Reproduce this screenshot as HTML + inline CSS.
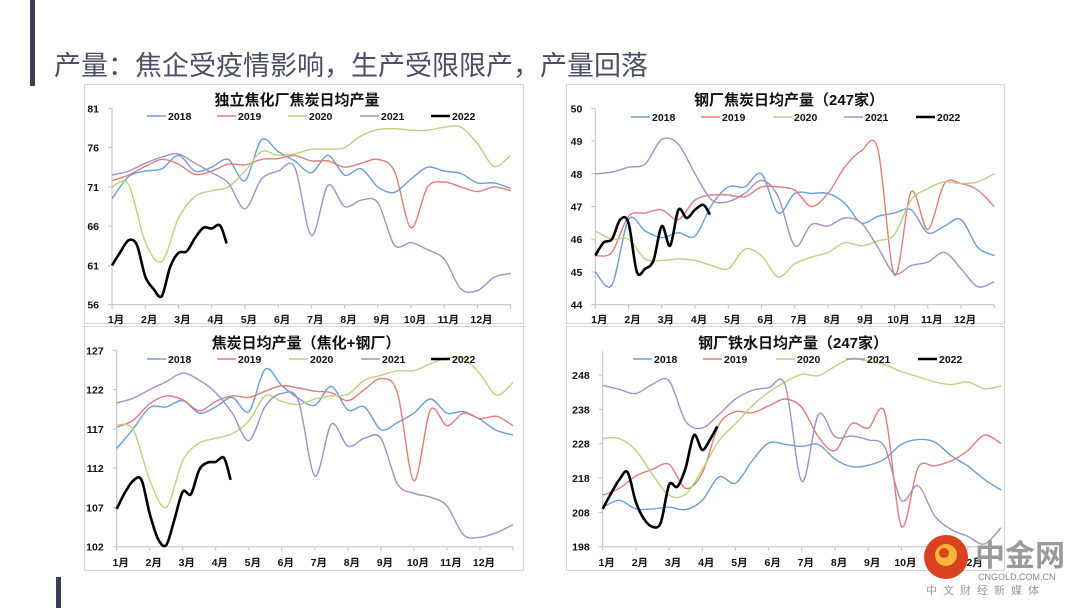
<!DOCTYPE html>
<html><head><meta charset="utf-8">
<style>
html,body{margin:0;padding:0;background:#fff;}
body{width:1080px;height:608px;overflow:hidden;position:relative;font-family:"Liberation Sans","Noto Sans CJK SC",sans-serif;}
svg text{font-family:"Liberation Sans","Noto Sans CJK SC",sans-serif;}
</style></head>
<body>
<svg id="root" width="1080" height="608" viewBox="0 0 1080 608">
  <rect x="30" y="0" width="5" height="86" fill="#3b3f54"/>
  <rect x="56" y="577" width="5" height="31" fill="#3b3f54"/>
  <text x="54" y="75" font-size="27" fill="#4a4f63">产量：焦企受疫情影响，生产受限限产，产量回落</text>
  <g id="charts"></g>
  <g>
    <circle cx="946" cy="557" r="22" fill="#d9421f"/>
    <circle cx="946" cy="555" r="11" fill="#f6b73c"/>
    <circle cx="944" cy="553" r="5" fill="#d9421f"/>
    <text x="975" y="566" font-size="30" font-weight="bold" fill="#9a9a9a">中金网</text>
    <text x="978" y="580" font-size="9" fill="#888">CNGOLD.COM.CN</text>
    <text x="926" y="594" font-size="11" fill="#999" letter-spacing="6">中文财经新媒体</text>
  </g>
</svg>
<script>
const months = ["1月","2月","3月","4月","5月","6月","7月","8月","9月","10月","11月","12月"];
const years = ["2018","2019","2020","2021","2022"];
const gridX = [0,0.5,1,1.5,2,2.5,3,3.5,4,4.5,5,5.5,6,6.5,7,7.5,8,8.5,9,9.5,10,10.5,11,11.5,12];
const x2022 = [0,0.25,0.5,0.75,1,1.25,1.5,1.75,2,2.25,2.5,2.75,3,3.25,3.45];

const c1Ticks = [56,61,66,71,76,81];
const c1s2018 = [69.5,72.3,73,73.3,75,73,73.5,74.5,71.8,77,75.5,74.3,72.8,75,72.5,73.3,71,70.3,72,73.5,73,72.7,71.5,71.5,70.8];
const c1s2019 = [71.8,72.5,73.6,74.5,73.9,72.6,73,73.9,73.8,74.5,74.6,75,74.3,74.3,73.5,74,74.5,73,65.8,71,71.6,71,70.4,71,70.5];
const c1s2020 = [71,71.3,64,61.5,67,69.8,70.5,71,73,75.5,75,75.2,75.8,75.8,76,77.5,78.3,78.4,78.2,78.2,78.6,78.6,76.5,73.6,75];
const c1s2021 = [72.5,73,74,74.8,75.2,74,72.8,71.5,68.2,72,73,73.5,64.8,71.2,68.5,69.3,69,63.6,63.9,63,61.8,58,57.8,59.5,60];
const c1s2022 = [61,62.7,64.2,63.6,59.6,58,57.1,60.8,62.6,62.8,64.5,65.8,65.7,66.1,63.8];

const c2Ticks = [44,45,46,47,48,49,50];
const c2s2018 = [45,44.6,46.6,46.25,46.05,46.2,46.1,47.05,47.6,47.6,48,46.8,47.4,47.4,47.4,47.1,46.5,46.7,46.8,46.9,46.2,46.4,46.6,45.75,45.5];
const c2s2019 = [45.5,45.6,46.7,46.8,46.9,46.6,47.2,47.35,47.35,47.3,47.6,47.6,47.5,47,47.4,48.2,48.7,48.75,44.9,47.45,46.3,47.7,47.7,47.5,47];
const c2s2020 = [46.25,46,46,45.4,45.35,45.4,45.35,45.2,45.1,45.7,45.5,44.85,45.25,45.45,45.6,45.9,45.8,45.95,46.15,47.2,47.55,47.75,47.7,47.75,48];
const c2s2021 = [48,48.05,48.2,48.3,49.05,48.9,48,47.2,47.15,47.4,47.8,47.3,45.8,46.45,46.4,46.65,46.5,45.75,44.95,45.2,45.3,45.6,45.1,44.55,44.7];
const c2s2022 = [45.5,45.9,46,46.6,46.5,45,45.1,45.35,46.4,45.8,46.9,46.65,46.9,47.05,46.75];

const c3Ticks = [102,107,112,117,122,127];
const c3s2018 = [114.5,117,119.7,119.8,120.6,119,119.8,121,119.2,124.6,122.5,120.9,120,122.4,119.4,119.8,116.9,117.8,119,120.8,119,119.2,118.2,116.8,116.2];
const c3s2019 = [117.2,118.1,120.2,121.2,120.7,119.3,120.5,121.2,121,121.8,122.5,122.2,121.8,121.6,120.6,122,123.4,121.6,110.4,119.4,117.4,119,118.3,118.6,117.4];
const c3s2020 = [117.5,116.9,110.5,107,113,115.2,115.8,116.4,118,121.2,120.5,120.1,120.8,121.2,121.4,123.2,123.8,124.4,124.4,125.3,126,126,124,121.3,122.9];
const c3s2021 = [120.3,120.9,122,123,124.1,123.2,121.6,119,115.5,119.9,121.5,120.6,111,117.6,114.8,115.8,115.8,110,108.8,108.3,107.2,103.5,103.2,103.8,104.8];
const c3s2022 = [106.8,108.9,110.4,110.5,106.2,103,102.2,105.5,109,108.7,111.8,112.7,112.8,113.3,110.5];

const c4Ticks = [198,208,218,228,238,248];
const c4s2018 = [209.5,211.5,209,209,209.5,208.8,211.5,218.3,216.5,223,228.2,227.8,227.2,227.8,223.5,221.3,221.7,223.6,227.8,229.2,228.5,224.5,221.5,217.6,214.5];
const c4s2019 = [213,215,218.6,220.5,222,215,219.5,233.5,237.3,237,239,241,238.5,230,226,233.8,232.5,237,204,221,221.5,223,226,230.5,228];
const c4s2020 = [229.5,229.5,226,219,213,213.3,220.5,228.8,233.8,239,243,246,248.2,247.8,250.5,252.8,252,251,249,247.5,246,245.2,246,244,244.8];
const c4s2021 = [245,243.8,242.6,245.3,246.3,234.5,232.6,236.5,241,243.5,244.3,245,217,236.5,230,230.2,229.1,227,211.5,215.8,207,203,201,198.8,203.5];
const c4s2022 = [209,213.5,217.5,219.7,211,206,203.8,205,216,215.5,221,230.5,226.2,229.5,233];

const colors = ["#6a9fd6","#e07c7c","#b9d37e","#a78ec8","#000000"];
const NS = "http://www.w3.org/2000/svg";
function mk(tag, attrs, parent){
  const e = document.createElementNS(NS, tag);
  for (const k in attrs) e.setAttribute(k, attrs[k]);
  if (parent) parent.appendChild(e);
  return e;
}
function smoothPath(pts){
  let d = "M" + pts[0][0].toFixed(1) + "," + pts[0][1].toFixed(1);
  for (let i = 0; i < pts.length - 1; i++){
    const p0 = pts[Math.max(0,i-1)], p1 = pts[i], p2 = pts[i+1], p3 = pts[Math.min(pts.length-1,i+2)];
    const t = 0.16;
    const c1x = p1[0] + (p2[0]-p0[0])*t, c1y = p1[1] + (p2[1]-p0[1])*t;
    const c2x = p2[0] - (p3[0]-p1[0])*t, c2y = p2[1] - (p3[1]-p1[1])*t;
    d += " C" + c1x.toFixed(1)+","+c1y.toFixed(1)+" "+c2x.toFixed(1)+","+c2y.toFixed(1)+" "+p2[0].toFixed(1)+","+p2[1].toFixed(1);
  }
  return d;
}
const chartDefs = [
  {name:"coke-independent-chart", title:"独立焦化厂焦炭日均产量", box:[84,84,523,323], left:112, right:510.7, yTop:108.3, yBot:304.7, yMin:56, yMax:81, axisTopV:81, ticks:c1Ticks, series:[c1s2018,c1s2019,c1s2020,c1s2021,c1s2022], titleX:297, titleY:105, legY:116, legX:[147,217,288,360,431], labY:323},
  {name:"coke-steel-mill-chart", title:"钢厂焦炭日均产量（247家）", box:[566,84,1004,323], left:595.3, right:994.3, yTop:108.3, yBot:304.7, yMin:44, yMax:50, axisTopV:50, ticks:c2Ticks, series:[c2s2018,c2s2019,c2s2020,c2s2021,c2s2022], titleX:789, titleY:105, legY:117, legX:[631,701,773,844,916], labY:323},
  {name:"coke-total-chart", title:"焦炭日均产量（焦化+钢厂）", box:[84,326,523,570], left:116.7, right:513, yTop:350.3, yBot:546.7, yMin:102, yMax:127, axisTopV:127, ticks:c3Ticks, series:[c3s2018,c3s2019,c3s2020,c3s2021,c3s2022], titleX:306, titleY:348, legY:359, legX:[147,217,289,361,431], labY:566},
  {name:"hot-metal-chart", title:"钢厂铁水日均产量（247家）", box:[566,326,1004,570], left:602.7, right:1001, yTop:375, yBot:546.7, yMin:198, yMax:248, axisTopV:255, ticks:c4Ticks, series:[c4s2018,c4s2019,c4s2020,c4s2021,c4s2022], titleX:793, titleY:348, legY:359, legX:[633,703,776,846,918], labY:566}
];
const root = document.getElementById("charts");
chartDefs.forEach(cfg => {
  const g = mk("g", {}, root);
  
  
  const b = cfg.box;
  const frame = mk("rect", {x:b[0]+0.5, y:b[1]+0.5, width:b[2]-b[0], height:b[3]-b[1], fill:"#fff", stroke:"#d4d4d4", "stroke-width":1}, g);
  
  
  const xS = m => cfg.left + (cfg.right - cfg.left) * m / 12;
  const yS = v => cfg.yBot - (cfg.yBot - cfg.yTop) * (v - cfg.yMin) / (cfg.yMax - cfg.yMin);
  const t = mk("text", {x:cfg.titleX, y:cfg.titleY, "text-anchor":"middle", "font-size":15, "font-weight":"bold", fill:"#111"}, g);
  t.textContent = cfg.title;
  
  
  const ya = mk("line", {x1:cfg.left, y1:yS(cfg.axisTopV), x2:cfg.left, y2:cfg.yBot, stroke:"#bfbfbf", "stroke-width":1}, g);
  
  
  const xa = mk("line", {x1:cfg.left, y1:cfg.yBot, x2:cfg.right, y2:cfg.yBot, stroke:"#bfbfbf", "stroke-width":1}, g);
  
  
  cfg.ticks.forEach(v => {
    const tl = mk("text", {x:cfg.left - 13, y:yS(v) + 4, "text-anchor":"end", "font-size":10.5, "font-weight":"bold", fill:"#111"}, g);
    tl.textContent = v;
    
    
    mk("line", {x1:cfg.left-4, y1:yS(v), x2:cfg.left, y2:yS(v), stroke:"#bfbfbf"}, g);
  });
  months.forEach((mn, i) => {
    mk("line", {x1:xS(i), y1:cfg.yBot, x2:xS(i), y2:cfg.yBot+4, stroke:"#bfbfbf"}, g);
    const ml = mk("text", {x:xS(i) + 4, y:cfg.labY, "text-anchor":"middle", "font-size":10.5, "font-weight":"bold", fill:"#111"}, g);
    ml.textContent = mn;
    
    
  });
  mk("line", {x1:cfg.right, y1:cfg.yBot, x2:cfg.right, y2:cfg.yBot+4, stroke:"#bfbfbf"}, g);
  cfg.series.forEach((vals, si) => {
    const xs = si === 4 ? x2022 : gridX;
    const pts = vals.map((v, i) => [xS(xs[i]), yS(v)]);
    const p = mk("path", {d:smoothPath(pts), fill:"none", stroke:colors[si], "stroke-width": si === 4 ? 2.6 : 1.4, "stroke-linejoin":"round"}, g);
    
    
  });
  years.forEach((yr, si) => {
    const lg = mk("g", {}, g);
    
    
    const lx = cfg.legX[si];
    mk("line", {x1:lx, y1:cfg.legY, x2:lx+19, y2:cfg.legY, stroke:colors[si], "stroke-width": si === 4 ? 2.6 : 1.4}, lg);
    const lt = mk("text", {x:lx+21, y:cfg.legY+4, "font-size":10.5, "font-weight":"bold", fill:"#111"}, lg);
    lt.textContent = yr;
  });
});
</script>
</body></html>
